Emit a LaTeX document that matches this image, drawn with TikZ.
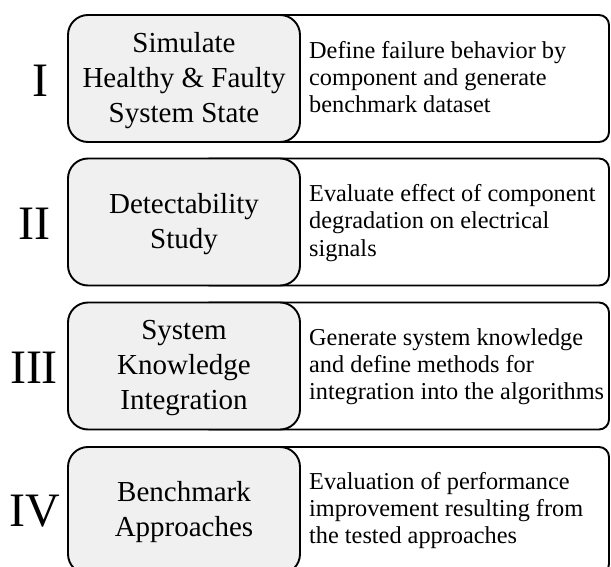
\documentclass[tikz,border=0pt]{standalone}
\usepackage{fontspec}
\setmainfont{Liberation Serif}
\definecolor{boxgray}{HTML}{F0F0F0}
\begin{document}
\begin{tikzpicture}[x=1pt,y=-1pt,
  back/.style={draw, line width=1.9pt, fill=white, rounded corners=10pt,
    minimum width=409pt, minimum height=127pt, inner sep=0pt},
  stage/.style={draw, line width=1.9pt, fill=boxgray, rounded corners=20pt,
    minimum width=232pt, minimum height=127pt, inner sep=0pt},
  stagetext/.style={align=center, inner sep=0pt,
    font=\fontsize{29}{35}\selectfont},
  desc/.style={anchor=north west, align=left, inner sep=0pt,
    font=\fontsize{24.3}{27.2}\selectfont},
  num/.style={inner sep=0pt, font=\fontsize{48}{48}\selectfont}]
\useasboundingbox (0,0) rectangle (611,567);
\clip (0,0) rectangle (611,567);
% Row I
\node[back] (b1) at (404.5,78.5) {};
\node[stage] (s1) at (184,78.5) {};
\node[stagetext] (t1) at (184,80.5) {Simulate\\Healthy \& Faulty\\System State};
\node[desc] (d1) at (309,39.2) {\strut Define failure behavior by\\component and generate\\benchmark dataset};
\node[num] (n1) at (40,81) {I};
% Row II
\node[back] (b2) at (404.5,222) {};
\node[stage] (s2) at (184,222) {};
\node[stagetext] (t2) at (184,224) {Detectability\\Study};
\node[desc] (d2) at (309,182.5) {\strut Evaluate effect of component\\degradation on electrical\\signals};
\node[num] (n2) at (34,223.5) {II};
% Row III
\node[back] (b3) at (404.5,366) {};
\node[stage] (s3) at (184,366) {};
\node[stagetext] (t3) at (184,368) {System\\Knowledge\\Integration};
\node[desc] (d3) at (309,326) {\strut Generate system knowledge\\and define methods for\\integration into the algorithms};
\node[num] (n3) at (34,367.5) {III};
% Row IV
\node[back] (b4) at (404.5,510.5) {};
\node[stage] (s4) at (184,510.5) {};
\node[stagetext] (t4) at (184,512.5) {Benchmark\\Approaches};
\node[desc] (d4) at (309,470) {\strut Evaluation of performance\\improvement resulting from\\the tested approaches};
\node[num] (n4) at (35,511.5) {IV};
\end{tikzpicture}
\end{document}
